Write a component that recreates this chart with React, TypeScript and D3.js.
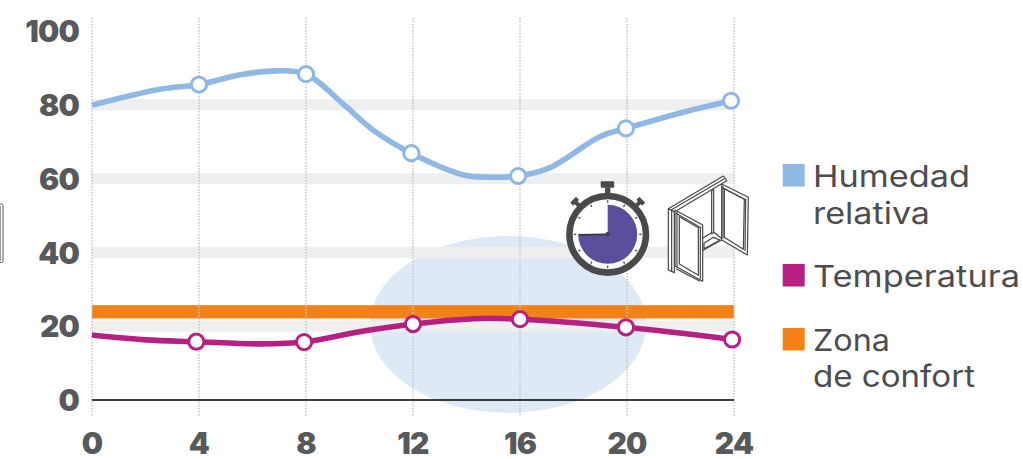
import React from "react";
import * as d3 from "d3";

// Hour-of-day ticks and percentage ticks
const xTicks = [0, 4, 8, 12, 16, 20, 24];
const yTicks = [0, 20, 40, 60, 80, 100];
const bandTicks = [20, 40, 60, 80];

// Relative humidity through the day
const humidityHours = [0, 2.54, 4, 5.6, 6.9, 8, 9.5, 10.5, 11.94, 13.9, 14.8, 15.93, 17.1, 19, 19.96, 22, 23.89];
const humidityValues = [79.9, 84.2, 85.5, 88.2, 89.2, 88.3, 79.5, 73.2, 66.9, 61, 60.4, 60.7, 62.9, 71.4, 73.6, 77.8, 81.1];
const humidityMarkers = [2, 5, 8, 11, 14, 16];

// Temperature through the day
const temperatureHours = [0, 2, 3.9, 6.3, 7.93, 10, 12, 14.5, 16, 19.96, 23.93];
const temperatureValues = [17.6, 16.3, 15.8, 15.2, 15.7, 18.5, 20.6, 22.1, 21.9, 19.7, 16.4];
const temperatureMarkers = [2, 4, 6, 8, 9, 10];

// Comfort zone limits
const comfortLow = 22.1;
const comfortHigh = 25.7;
const bandHalf = 1.5;

const legendRows = [
  { color: "#8fb8e5", lines: ["Humedad", "relativa"], widths: [157, 117], top: 164, baselines: [187, 224] },
  { color: "#b72083", lines: ["Temperatura"], widths: [207], top: 264, baselines: [287] },
  { color: "#f28117", lines: ["Zona", "de confort"], widths: [77, 162], top: 328, baselines: [351, 387] },
];

const BLUE = "#8fb8e5";
const MAGENTA = "#b72083";
const ORANGE = "#f28117";
const TEXT = "#58595b";

const x = d3.scaleLinear().domain([0, 24]).range([92, 734]);
const y = d3.scaleLinear().domain([0, 100]).range([400, 31]);

const makeLine = (hours: number[], values: number[]) =>
  d3
    .line<number>()
    .x((h) => x(h))
    .y((_, i) => y(values[i]))
    .curve(d3.curveCatmullRom.alpha(0.5))(hours) as string;

function Stopwatch({ cx, cy }: { cx: number; cy: number }) {
  const sector = d3.arc()({
    innerRadius: 0,
    outerRadius: 29.5,
    startAngle: 0,
    endAngle: Math.PI * 1.5,
  }) as string;
  const dark = "#4a4a4c";
  return (
    <g transform={`translate(${cx},${cy})`}>
      <rect x={-7} y={-53} width={13.5} height={6.5} rx={1} fill={dark} />
      <rect x={-2.7} y={-47} width={5.4} height={9} fill={dark} />
      {[-45, 45].map((a) => (
        <g key={a} transform={`rotate(${a})`}>
          <rect x={-2} y={-46} width={4} height={7} fill={dark} />
          <rect x={-4.2} y={-49} width={8.4} height={4.4} rx={1} fill={dark} />
        </g>
      ))}
      <circle r={38.3} fill="#fff" stroke={dark} strokeWidth={6.6} />
      <path d={sector} fill="#5a4e9d" />
      {d3.range(12).map((i) => (
        <line
          key={i}
          transform={`rotate(${i * 30})`}
          x1={0}
          x2={0}
          y1={-31.5}
          y2={-34}
          stroke={dark}
          strokeWidth={1.3}
        />
      ))}
      <line x1={-29} y1={0.6} x2={0} y2={0} stroke="#35353f" strokeWidth={1.6} />
      <circle r={2.4} fill="#3f3f55" />
    </g>
  );
}

// Isometric line drawing of an open window
function WindowIcon() {
  const stroke = "#47474a";
  const pt = (zx: number, zy: number) => `${540 + zx / 3},${160 + zy / 3}`;
  const poly = (pts: number[][], fill = "#fff") => (
    <polygon
      points={pts.map((p) => pt(p[0], p[1])).join(" ")}
      fill={fill}
      stroke={stroke}
      strokeWidth={1.2}
      strokeLinejoin="round"
    />
  );
  const ln = (a: number[], b: number[]) => (
    <line
      x1={540 + a[0] / 3}
      y1={160 + a[1] / 3}
      x2={540 + b[0] / 3}
      y2={160 + b[1] / 3}
      stroke={stroke}
      strokeWidth={1.2}
    />
  );
  return (
    <g>
      {/* sill and rear post */}
      {poly([[487, 235], [520, 215], [548, 238], [487, 272]])}
      {poly([[492, 250], [520, 232], [540, 240], [492, 266]])}
      {poly([[515, 92], [521, 88], [521, 218], [515, 222]])}
      {/* rear leaf */}
      {poly([[545, 72], [625, 112], [622, 285], [545, 240]])}
      {poly([[553, 86], [613, 118], [610, 268], [553, 232]])}
      {ln([545, 82], [618, 120])}
      {ln([549, 78], [549, 236])}
      {ln([617, 116], [615, 274])}
      {/* head beam */}
      {poly([[385, 146], [550, 48], [560, 62], [403, 156]])}
      {ln([393, 150], [553, 56])}
      {/* front post */}
      {poly([[385, 146], [403, 156], [403, 338], [385, 330]])}
      {ln([395, 152], [395, 334])}
      {/* front leaf */}
      {poly([[405, 150], [488, 195], [488, 364], [405, 318]])}
      {poly([[418, 170], [475, 203], [475, 346], [418, 312]])}
      {ln([408, 160], [484, 204])}
      {ln([408, 326], [480, 364])}
      {ln([411, 155], [411, 322])}
      {ln([481, 200], [481, 358])}
    </g>
  );
}

export default function App() {
  const font = "Inter, sans-serif";
  return (
    <svg
      width={1023}
      height={459}
      viewBox="0 0 1023 459"
      style={{ position: "absolute", left: 0, top: 0, background: "#fff" }}
    >
      {/* clipped piece of window drawing at the left edge */}
      <rect x={-12} y={204} width={15} height={58.5} rx={1.5} fill="#fff" stroke="#555" strokeWidth={1} />
      <line x1={0.5} y1={206} x2={0.5} y2={261} stroke="#999" strokeWidth={1} />

      {/* afternoon highlight */}
      <ellipse cx={508} cy={324.4} rx={138} ry={88.4} fill="#dde9f5" />

      {/* horizontal bands */}
      {bandTicks.map((t) => (
        <rect
          key={t}
          x={x(0)}
          width={x(24) - x(0)}
          y={y(t + bandHalf)}
          height={y(t - bandHalf) - y(t + bandHalf)}
          fill="#eef0ef"
        />
      ))}

      {/* comfort zone */}
      <rect
        x={x(0)}
        width={x(24) - x(0)}
        y={y(comfortHigh)}
        height={y(comfortLow) - y(comfortHigh)}
        fill={ORANGE}
      />

      {/* vertical dotted guides */}
      {xTicks.map((t) => (
        <line
          key={t}
          x1={x(t)}
          x2={x(t)}
          y1={18}
          y2={417}
          stroke="#c2c4c5"
          strokeWidth={1.5}
          strokeDasharray="1.5 1.5"
        />
      ))}

      {/* baseline */}
      <line x1={x(0)} x2={x(24)} y1={y(0)} y2={y(0)} stroke="#000" strokeWidth={1.3} />

      {/* axis labels */}
      {yTicks.map((t) => (
        <text
          key={t}
          x={79}
          y={y(t) + 11.2}
          textAnchor="end"
          fontFamily={font}
          fontWeight={900}
          fontSize={30}
          letterSpacing={-0.8}
          fill={TEXT}
        >
          {t}
        </text>
      ))}
      {xTicks.map((t) => (
        <text
          key={t}
          x={x(t)}
          y={454}
          textAnchor="middle"
          fontFamily={font}
          fontWeight={900}
          fontSize={30}
          letterSpacing={-0.8}
          fill={TEXT}
        >
          {t}
        </text>
      ))}

      {/* series */}
      <path d={makeLine(humidityHours, humidityValues)} fill="none" stroke={BLUE} strokeWidth={5.6} />
      <path d={makeLine(temperatureHours, temperatureValues)} fill="none" stroke={MAGENTA} strokeWidth={5.6} />
      {humidityMarkers.map((i) => (
        <circle key={i} cx={x(humidityHours[i])} cy={y(humidityValues[i])} r={7.6} fill="#fff" stroke={BLUE} strokeWidth={3} />
      ))}
      {temperatureMarkers.map((i) => (
        <circle key={i} cx={x(temperatureHours[i])} cy={y(temperatureValues[i])} r={7.6} fill="#fff" stroke={MAGENTA} strokeWidth={3} />
      ))}

      <Stopwatch cx={607.7} cy={234.3} />
      <WindowIcon />

      {/* legend */}
      {legendRows.map((row) => (
        <g key={row.lines[0]}>
          <rect x={782.7} y={row.top} width={22} height={22.5} fill={row.color} />
          {row.lines.map((line, i) => (
            <text
              key={line}
              x={813}
              y={row.baselines[i]}
              fontFamily={font}
              fontSize={30}
              fill="#4d4d4f"
              textLength={row.widths[i]}
              lengthAdjust="spacingAndGlyphs"
            >
              {line}
            </text>
          ))}
        </g>
      ))}
    </svg>
  );
}
